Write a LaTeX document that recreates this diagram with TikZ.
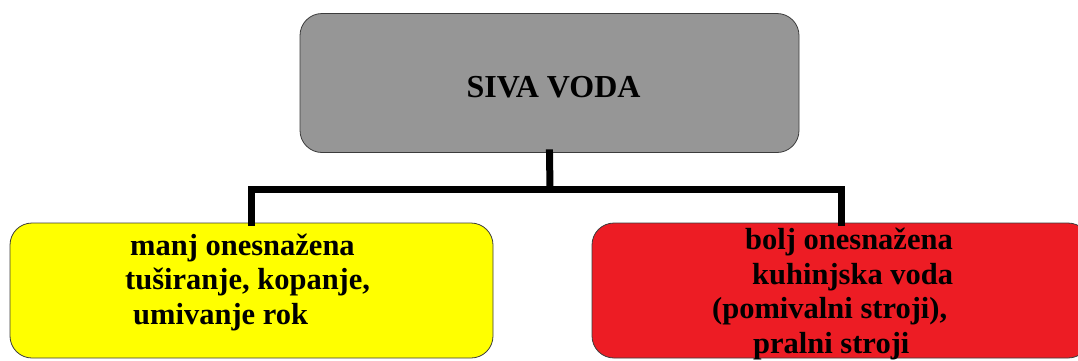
\documentclass[tikz,border=0pt]{standalone}
\usepackage{fontspec}
\setmainfont{Liberation Serif}
\usetikzlibrary{positioning}
\definecolor{sivaGray}{HTML}{969696}
\definecolor{sivaYellow}{HTML}{FFFF00}
\definecolor{sivaRed}{HTML}{ED1C24}
\definecolor{sivaEdge}{HTML}{3C3C3C}

\tikzset{
  box/.style={draw=sivaEdge,line width=0.8pt,rounded corners=22pt,inner sep=0pt},
  boxtext/.style={inner sep=0pt,align=left,anchor=base west,
                  font=\fontsize{30.5}{34.5}\selectfont\bfseries},
  link/.style={line width=7pt,line cap=rect}
}

\begin{document}
\begin{tikzpicture}[x=1pt,y=-1pt]
  \useasboundingbox (0,0) rectangle (1078,360);
  % boxes
  \node[box,fill=sivaGray,minimum width=499pt,minimum height=139pt] (siva) at (549.5,83) {};
  \node[box,fill=sivaYellow,minimum width=483pt,minimum height=135pt] (manj) at (251.5,290.5) {};
  \node[box,fill=sivaRed,minimum width=498pt,minimum height=135pt] (bolj) at (841,290.5) {};
  % connectors
  \coordinate (bus) at (550,189);
  \draw[link] (siva.south) -- (bus);
  \draw[link,line join=miter] (manj.north) |- (bus) -| (bolj.north);
  % texts (base = last line)
  \node[boxtext,anchor=base,font=\fontsize{32}{34}\selectfont\bfseries] (sivatext) at (553.5,97) {SIVA VODA};
  \node[boxtext] (manjtext) at (125,324) {%
    \hspace*{5pt}manj onesnažena\\%
    tuširanje, kopanje,\\%
    \hspace*{8pt}umivanje rok};
  \node[boxtext] (boljtext) at (712,353) {%
    \hspace*{33pt}bolj onesnažena\\%
    \hspace*{40pt}kuhinjska voda\\%
    (pomivalni stroji),\\%
    \hspace*{41pt}pralni stroji};
\end{tikzpicture}
\end{document}
